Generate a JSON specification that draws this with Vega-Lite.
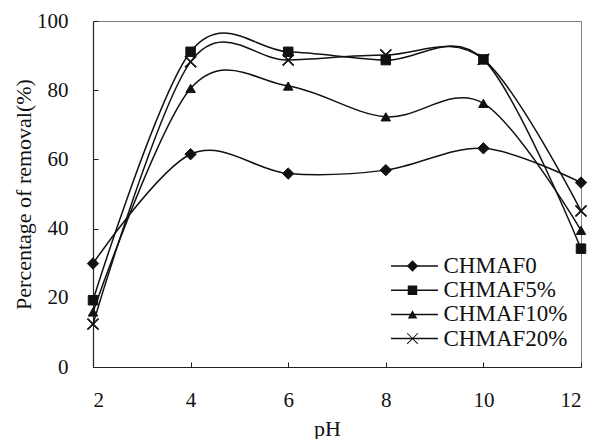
{
  "$schema": "https://vega.github.io/schema/vega-lite/v6.json",
  "width": 488,
  "height": 346,
  "autosize": "none",
  "padding": {"left": 93, "top": 21, "right": 13, "bottom": 72},
  "background": "white",
  "config": {
    "font": "Liberation Serif, Times New Roman, DejaVu Serif, serif",
    "view": {"stroke": "#7f7f7f", "strokeWidth": 1},
    "axis": {
      "domainColor": "#222222",
      "domainWidth": 1.2,
      "tickColor": "#222222",
      "tickSize": -5,
      "tickWidth": 1,
      "grid": false,
      "labelFont": "Liberation Serif, Times New Roman, DejaVu Serif, serif",
      "labelFontSize": 21,
      "labelColor": "#111111",
      "titleFont": "Liberation Serif, Times New Roman, DejaVu Serif, serif",
      "titleFontSize": 22,
      "titleFontWeight": "normal",
      "titleColor": "#111111"
    },
    "legend": {
      "labelFont": "Liberation Serif, Times New Roman, DejaVu Serif, serif",
      "labelFontSize": 23,
      "labelColor": "#111111"
    }
  },
  "data": {
    "values": [
      {"pH": 2, "series": "CHMAF0", "removal": 29.9},
      {"pH": 4, "series": "CHMAF0", "removal": 61.5},
      {"pH": 6, "series": "CHMAF0", "removal": 55.9},
      {"pH": 8, "series": "CHMAF0", "removal": 56.9},
      {"pH": 10, "series": "CHMAF0", "removal": 63.2},
      {"pH": 12, "series": "CHMAF0", "removal": 53.3},
      {"pH": 2, "series": "CHMAF5%", "removal": 19.3},
      {"pH": 4, "series": "CHMAF5%", "removal": 91.1},
      {"pH": 6, "series": "CHMAF5%", "removal": 91.1},
      {"pH": 8, "series": "CHMAF5%", "removal": 88.7},
      {"pH": 10, "series": "CHMAF5%", "removal": 88.9},
      {"pH": 12, "series": "CHMAF5%", "removal": 34.2},
      {"pH": 2, "series": "CHMAF10%", "removal": 15.9},
      {"pH": 4, "series": "CHMAF10%", "removal": 80.5},
      {"pH": 6, "series": "CHMAF10%", "removal": 81.2},
      {"pH": 8, "series": "CHMAF10%", "removal": 72.3},
      {"pH": 10, "series": "CHMAF10%", "removal": 76.2},
      {"pH": 12, "series": "CHMAF10%", "removal": 39.5},
      {"pH": 2, "series": "CHMAF20%", "removal": 12.4},
      {"pH": 4, "series": "CHMAF20%", "removal": 88.2},
      {"pH": 6, "series": "CHMAF20%", "removal": 88.7},
      {"pH": 8, "series": "CHMAF20%", "removal": 90.2},
      {"pH": 10, "series": "CHMAF20%", "removal": 88.9},
      {"pH": 12, "series": "CHMAF20%", "removal": 45.1}
    ]
  },
  "encoding": {
    "x": {
      "field": "pH",
      "type": "quantitative",
      "scale": {"domain": [2, 12], "nice": false, "zero": false},
      "axis": {"values": [2, 4, 6, 8, 10, 12], "labelPadding": 27, "title": "pH", "titlePadding": 8, "titleX": 234}
    },
    "y": {
      "field": "removal",
      "type": "quantitative",
      "scale": {"domain": [0, 100], "nice": false},
      "axis": {"values": [0, 20, 40, 60, 80, 100], "labelPadding": 30, "title": "Percentage of removal(%)", "titlePadding": 1}
    }
  },
  "layer": [
    {
      "mark": {"type": "line", "interpolate": "cardinal", "strokeWidth": 1.5},
      "encoding": {
        "color": {
          "field": "series",
          "type": "nominal",
          "sort": ["CHMAF0", "CHMAF5%", "CHMAF10%", "CHMAF20%"],
          "scale": {"range": ["#111111", "#111111", "#111111", "#111111"]},
          "legend": {
            "orient": "none",
            "legendX": 297,
            "legendY": 233,
            "title": null,
            "padding": 0,
            "symbolType": "stroke",
            "symbolSize": 2209,
            "symbolStrokeWidth": 1.5,
            "symbolOffset": 0,
            "labelOffset": 4.5,
            "clipHeight": 24,
            "rowPadding": 0.2,
            "labelLimit": 300
          }
        }
      }
    },
    {
      "mark": {"type": "point", "filled": true, "fill": "#111111", "stroke": "#111111", "strokeWidth": 1, "size": 90, "opacity": 1},
      "encoding": {
        "shape": {
          "field": "series",
          "type": "nominal",
          "scale": {
            "domain": ["CHMAF0", "CHMAF5%", "CHMAF10%", "CHMAF20%"],
            "range": [
              "M-1.2,0L0,-1.2L1.2,0L0,1.2Z",
              "square",
              "triangle-up",
              "M-1.05,-1.2L1.2,1.05L1.05,1.2L-1.2,-1.05ZM-1.2,1.05L1.05,-1.2L1.2,-1.05L-1.05,1.2Z"
            ]
          },
          "legend": {
            "orient": "none",
            "legendX": 297,
            "legendY": 233,
            "title": null,
            "padding": 0,
            "symbolSize": 90,
            "symbolFillColor": "#111111",
            "symbolStrokeColor": "#111111",
            "symbolStrokeWidth": 1,
            "symbolOffset": 11,
            "clipHeight": 24,
            "rowPadding": 0.2,
            "labelOpacity": 0,
            "labelExpr": "''",
            "encode": {
              "symbols": {
                "fill": {"value": "#111111"},
                "stroke": {"value": "#111111"},
                "strokeWidth": {"value": 1},
                "opacity": {"value": 1}
              }
            }
          }
        }
      }
    }
  ]
}
